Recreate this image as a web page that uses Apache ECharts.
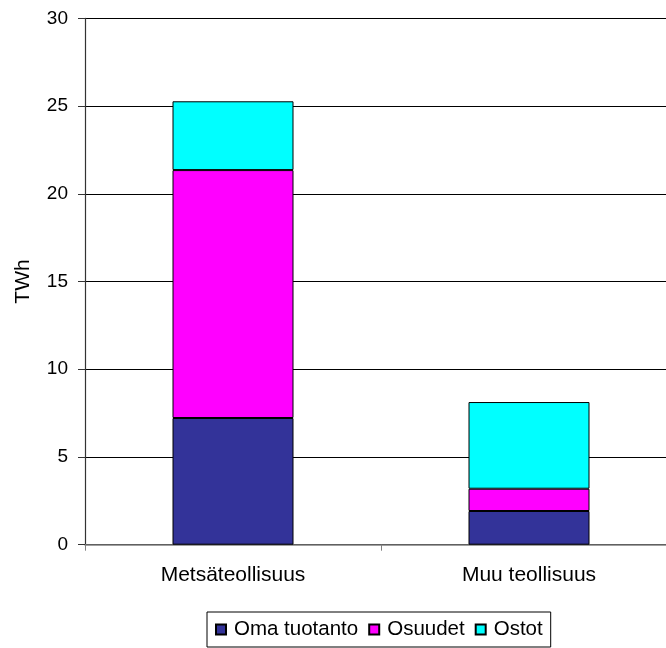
<!DOCTYPE html>
<html>
<head>
<meta charset="utf-8">
<script src="https://cdn.jsdelivr.net/npm/echarts@6/dist/echarts.min.js"></script>
<style>
  html, body { margin: 0; padding: 0; background: #fff; overflow: hidden; }
  #chart { width: 677px; height: 648px; }
</style>
</head>
<body>
<div id="chart"></div>
<script>
// Sähkön hankinta teollisuudessa (TWh)
const categories = ['Metsäteollisuus', 'Muu teollisuus'];
const omaTuotanto = [7.22, 1.92];
const osuudet = [14.13, 1.27];
const ostot = [3.92, 4.94];
const yTicks = [0, 5, 10, 15, 20, 25, 30];

const font = 'Liberation Sans, Arial, sans-serif';
const chart = echarts.init(document.getElementById('chart'), null, { renderer: 'canvas' });

function barSeries(name, data, color) {
  return {
    name: name,
    type: 'bar',
    stack: 'total',
    data: data,
    barWidth: 121,
    itemStyle: { color: color, borderColor: '#000', borderWidth: 1 },
    emphasis: { disabled: true },
    animation: false
  };
}

chart.setOption({
  animation: false,
  grid: { left: 85, top: 18.3, right: 0, height: 526.4, containLabel: false },
  xAxis: {
    type: 'category',
    data: categories,
    axisLine: { lineStyle: { color: '#808080', width: 1.5 } },
    axisTick: { show: true, length: 6, lineStyle: { color: '#808080' } },
    axisLabel: { color: '#000', fontFamily: font, fontSize: 21, margin: 20 }
  },
  yAxis: {
    type: 'value',
    min: yTicks[0],
    max: yTicks[yTicks.length - 1],
    interval: 5,
    name: 'TWh',
    nameLocation: 'middle',
    nameGap: 51,
    nameRotate: 90,
    nameTextStyle: { color: '#000', fontFamily: font, fontSize: 21 },
    axisLine: { show: true, lineStyle: { color: '#333', width: 1.2 } },
    axisTick: { show: true, length: 7, lineStyle: { color: '#333' } },
    axisLabel: { color: '#000', fontFamily: font, fontSize: 19, margin: 17 },
    splitLine: { show: true, lineStyle: { color: '#000', width: 1 } }
  },
  legend: {
    left: 207,
    top: 612,
    itemWidth: 10,
    itemHeight: 10,
    itemGap: 10,
    padding: [7, 8, 7, 8],
    borderColor: '#000',
    borderWidth: 1,
    icon: 'rect',
    textStyle: { color: '#000', fontFamily: font, fontSize: 20.5, padding: [0, 0, 0, 3] },
    selectedMode: false,
    data: ['Oma tuotanto', 'Osuudet', 'Ostot']
  },
  series: [
    barSeries('Oma tuotanto', omaTuotanto, '#333399'),
    barSeries('Osuudet', osuudet, '#FF00FF'),
    barSeries('Ostot', ostot, '#00FFFF')
  ]
});
</script>
</body>
</html>
